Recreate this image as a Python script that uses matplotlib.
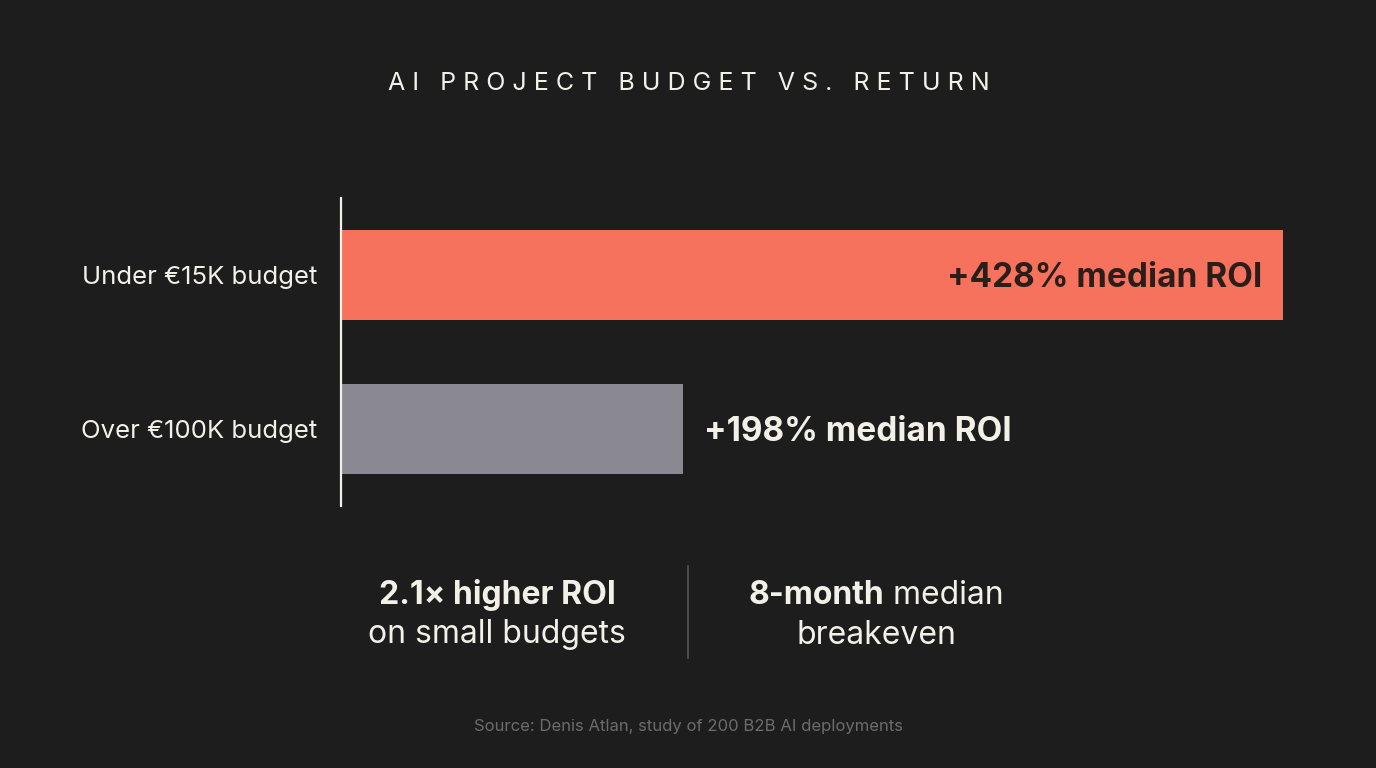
import matplotlib.pyplot as plt

# chart data
categories = ["Under €15K budget", "Over €100K budget"]
roi = [428, 198]
roi_labels = ["+428% median ROI", "+198% median ROI"]
bar_colors = ["#f7725c", "#8a8991"]

title = "AI PROJECT BUDGET VS. RETURN"
source = "Source: Denis Atlan, study of 200 B2B AI deployments"

BG = "#1d1d1d"
TXT = "#f3f0e8"

plt.rcParams['font.family'] = ['Inter', 'DejaVu Sans']

fig = plt.figure(figsize=(13.76, 7.68), dpi=100, facecolor=BG)
W, H = 1376, 768

ax = fig.add_axes([341 / W, (H - 506) / H, (1283 - 341) / W, 308 / H])
ax.set_facecolor(BG)
ax.barh(range(len(roi)), roi, height=0.59, color=bar_colors, left=0)
ax.set_xlim(67, 428)
ax.set_ylim(1.5, -0.5)
for s in ["top", "right", "bottom"]:
    ax.spines[s].set_visible(False)
ax.spines["left"].set_color(TXT)
ax.spines["left"].set_linewidth(1.6)
ax.set_xticks([])
ax.set_yticks(range(len(categories)))
ax.set_yticklabels(categories, color=TXT, fontsize=18.5)
ax.tick_params(axis="y", length=0, pad=17)

# value labels
ax.text(roi[0] - 8, 0.02, roi_labels[0], ha="right", va="center",
        fontsize=24, fontweight="bold", color="#2a1e1b")
ax.text(roi[1] + 8, 1.02, roi_labels[1], ha="left", va="center",
        fontsize=24, fontweight="bold", color=TXT)

# spaced-out title
spaced = "   ".join(" ".join(w) for w in title.split(" "))
fig.text(689 / W, 1 - 84 / H, spaced, ha="center", va="center",
         fontsize=18, color=TXT)

# bottom callouts
fig.text(497 / W, 1 - 595 / H, "2.1× higher ROI", ha="center", va="center",
         fontsize=23, fontweight="bold", color=TXT)
fig.text(497 / W, 1 - 635 / H, "on small budgets", ha="center", va="center",
         fontsize=23, color=TXT)
fig.add_artist(plt.Line2D([688 / W, 688 / W], [1 - 566 / H, 1 - 658 / H],
                          color="#555555", linewidth=1.2))

renderer = fig.canvas.get_renderer()
t1 = fig.text(0, 1 - 595 / H, "8-month", ha="left", va="center",
              fontsize=23, fontweight="bold", color=TXT)
t2 = fig.text(0, 1 - 595 / H, " median", ha="left", va="center",
              fontsize=23, color=TXT)
w1 = t1.get_window_extent(renderer).width
w2 = t2.get_window_extent(renderer).width
x0 = 876 - (w1 + w2) / 2
t1.set_x(x0 / W)
t2.set_x((x0 + w1) / W)
fig.text(876 / W, 1 - 635 / H, "breakeven", ha="center", va="center",
         fontsize=23, color=TXT)

fig.text(688 / W, 1 - 727 / H, source, ha="center", va="center",
         fontsize=12, color="#6c6c6c")

fig.savefig("out.png", dpi=100, facecolor=BG)
